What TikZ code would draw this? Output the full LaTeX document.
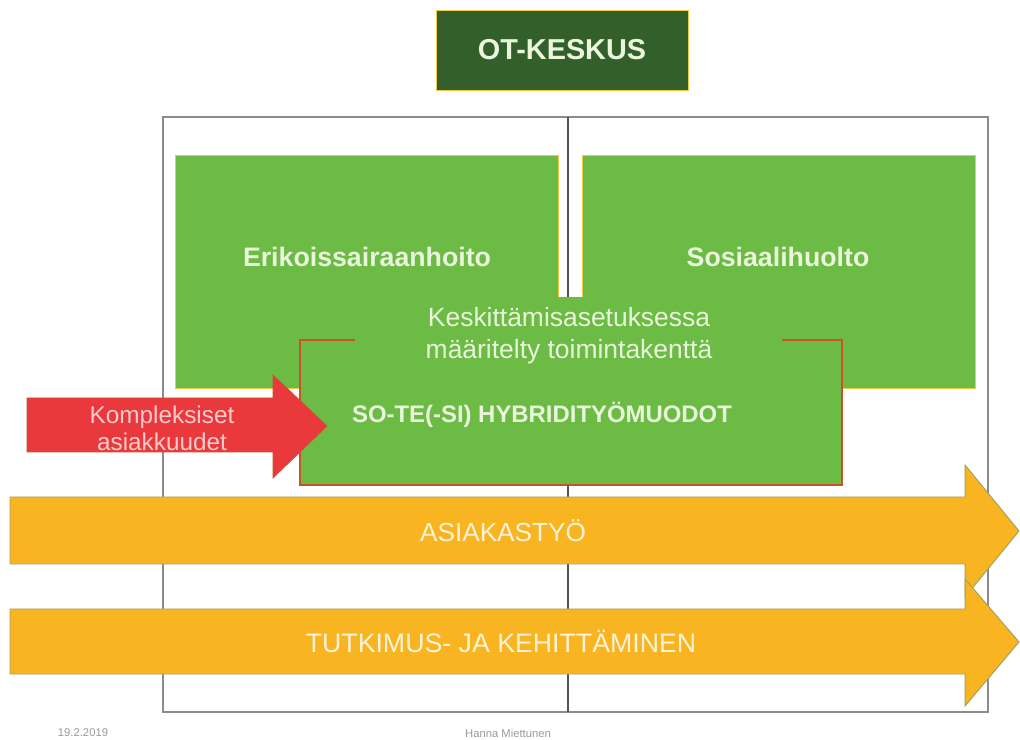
\documentclass[tikz,border=0pt]{standalone}
\usepackage{fontspec}
\setmainfont{Liberation Sans}
\definecolor{lehti}{HTML}{6CBB45}
\definecolor{tumma}{HTML}{33602A}
\definecolor{keltainen}{HTML}{F9B422}
\definecolor{punainen}{HTML}{EA393D}
\definecolor{reuna}{HTML}{C8532B}
\definecolor{kehys}{HTML}{8C8C8C}
\definecolor{vaalea}{HTML}{EAF6DC}
\definecolor{kerma}{HTML}{FDF3D6}
\definecolor{roosa}{HTML}{F8CACA}
\definecolor{oliivi}{HTML}{A3A35E}
\definecolor{kulta}{HTML}{F2C744}

\begin{document}
\begin{tikzpicture}[x=0.025cm, y=0.025cm]
\tikzstyle{every node}+=[inner sep=0pt]
\tikzstyle{laatikko}=[fill=lehti, draw=kulta, line width=0.6pt]
\tikzstyle{nuoli}=[fill=keltainen, draw=oliivi, line width=0.7pt]
\useasboundingbox (0,0) rectangle (1020,-740);
\draw [kehys, line width=1.1pt] (163,-117) rectangle (988,-712);
\draw [kehys!60!black, line width=0.8pt] (568,-117) -- (568,-712);
\draw [fill=tumma, draw=kulta, line width=0.6pt] (436,-10) rectangle (688,-90);
\draw (562,-50) node (otkeskus) [text=vaalea, font=\fontsize{20.5}{24}\selectfont\bfseries] {OT-KESKUS};
\draw [laatikko] (175,-155) rectangle (558,-388);
\draw (367,-257) node (erikois) [text=vaalea, font=\fontsize{19}{23}\selectfont\bfseries] {Erikoissairaanhoito};
\draw [laatikko] (582,-155) rectangle (975,-388);
\draw (778,-257) node (sosiaali) [text=vaalea, font=\fontsize{19}{23}\selectfont\bfseries] {Sosiaalihuolto};
\draw [fill=lehti, draw=reuna, line width=0.9pt] (300,-340) rectangle (842,-485);
\draw (542,-415) node (hybridi) [text=vaalea, font=\fontsize{17}{20}\selectfont\bfseries] {SO-TE(-SI) HYBRIDITYÖMUODOT};
\fill [lehti] (355,-297) rectangle (782,-372);
\draw (569,-336) node (keskit) [text=vaalea, align=center, font=\fontsize{18.8}{22.7}\selectfont] {Keskittämisasetuksessa\\määritelty toimintakenttä};
\draw [fill=punainen, draw=reuna, line width=0.5pt] (27,-398) -- (273,-398) -- (273,-375) -- (327,-426) -- (273,-478) -- (273,-452) -- (27,-452) -- cycle;
\draw (162,-428) node (kompleksi) [text=roosa, align=center, font=\fontsize{17.3}{19}\selectfont] {Kompleksiset\\asiakkuudet};
\draw [nuoli] (10,-497) -- (965,-497) -- (965,-465) -- (1019,-531) -- (965,-597) -- (965,-564) -- (10,-564) -- cycle;
\draw (503,-531) node (asiakastyo) [text=kerma, font=\fontsize{18.6}{22}\selectfont] {ASIAKASTYÖ};
\draw [nuoli] (10,-609) -- (965,-609) -- (965,-579) -- (1019,-642) -- (965,-706) -- (965,-674) -- (10,-674) -- cycle;
\draw (501,-641) node (tutkimus) [text=kerma, font=\fontsize{19}{22}\selectfont] {TUTKIMUS- JA KEHITTÄMINEN};
\draw (83,-733) node (pvm) [text=black!40, font=\fontsize{8}{9}\selectfont] {19.2.2019};
\draw (508,-733) node (tekija) [text=black!40, font=\fontsize{8}{9}\selectfont] {Hanna Miettunen};
\end{tikzpicture}
\end{document}
